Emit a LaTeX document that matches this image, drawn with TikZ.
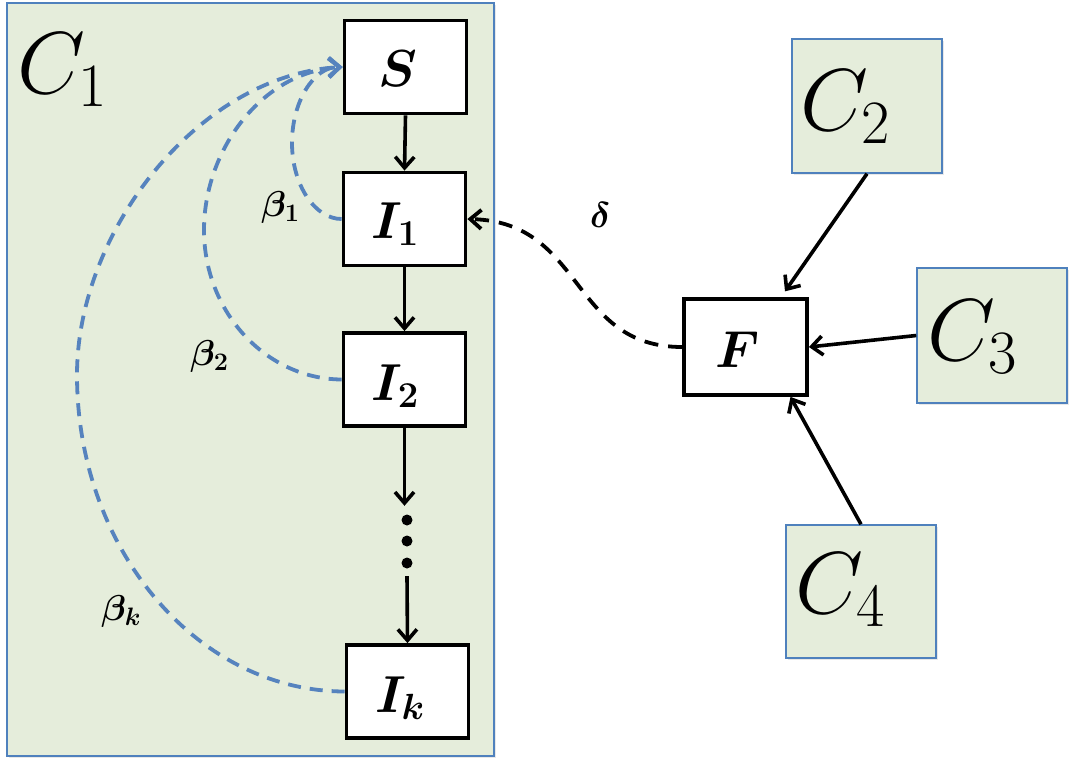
\RequirePackage{fix-cm}
\documentclass[tikz,border=0pt]{standalone}
\usepackage{bm}
\usetikzlibrary{arrows.meta,shadows}
\definecolor{cgreen}{RGB}{229,237,219}
\definecolor{cblue}{RGB}{79,129,189}
\definecolor{dblue}{RGB}{86,131,190}
\begin{document}
\begin{tikzpicture}[x=1pt,y=-1pt,
  comp/.style={draw=cblue, line width=1.4pt, fill=cgreen, inner sep=0pt,
    drop shadow={shadow xshift=1.5pt, shadow yshift=-1.5pt, opacity=0.18}},
  stbox/.style={draw=black, line width=3.8pt, fill=white, inner sep=0pt,
    minimum width=122pt, minimum height=93pt},
  clabel/.style={inner sep=0pt, anchor=base west, font=\fontsize{88}{96}\selectfont},
  blabel/.style={inner sep=0pt, anchor=base west, font=\fontsize{36}{40}\selectfont},
  slabel/.style={inner sep=0pt, anchor=base, font=\fontsize{52}{60}\selectfont},
  tip/.style={-{Straight Barb[length=11pt,width=19pt]}},
  flow/.style={tip, line width=3.6pt},
  barc/.style={tip, draw=dblue, line width=3.8pt, dash pattern=on 13pt off 9pt},
  karc/.style={tip, draw=black, line width=3.8pt, dash pattern=on 14pt off 10pt},
]
\useasboundingbox (0,0) rectangle (1072,764);

% compartments
\node[comp, minimum width=487pt, minimum height=753pt] (C1) at (250.5,379.5) {};
\node[comp, minimum width=150pt, minimum height=134pt] (C2) at (867,106) {};
\node[comp, minimum width=150pt, minimum height=135pt] (C3) at (992,335.5) {};
\node[comp, minimum width=150pt, minimum height=133pt] (C4) at (861,591.5) {};

\node[clabel] (C1t) at (17,93) {$C_1$};
\node[clabel] (C2t) at (800,130) {$C_2$};
\node[clabel] (C3t) at (927,360) {$C_3$};
\node[clabel] (C4t) at (795,613) {$C_4$};

% state boxes
\node[stbox] (S)  at (405.5,67) {};
\node[stbox] (I1) at (404.5,219) {};
\node[stbox] (I2) at (404.5,379.5) {};
\node[stbox] (Ik) at (407.5,691.5) {};
\node[stbox, minimum width=123pt, minimum height=96pt] (F) at (745.5,347) {};

\node[slabel] (St)  at (398,86)  {$\bm{S}$};
\node[slabel] (I1t) at (395,238) {$\bm{I_1}$};
\node[slabel] (I2t) at (395,400) {$\bm{I_2}$};
\node[slabel] (Ikt) at (400,712) {$\bm{I_k}$};
\node[slabel] (Ft)  at (738,367) {$\bm{F}$};

% dots
\node[inner sep=0pt, minimum width=12pt, minimum height=70pt] (dots) at (407,541) {};
\foreach \dy in {-22,0,21} \fill ([yshift=\dy]dots.center) circle (5.5pt);

% flow arrows
\draw[flow] (S.south) -- (I1.north);
\draw[flow] (I1.south) -- (I2.north);
\draw[flow] (I2.south) -- (I2.south |- dots.north);
\draw[flow] (dots.south) -- (Ik.north);

% infection arcs
\draw[barc] (I1.west) .. controls (315,219) and (292,185) .. (292,143)
  .. controls (292,101) and (314,67) .. (S.west);
\draw[barc] (I2.west) .. controls (266,379) and (204,312) .. (204,230)
  .. controls (204,150) and (262,72) .. (S.west);
\draw[barc] (Ik.west) .. controls (197,691) and (77,549) .. (77,375)
  .. controls (77,230) and (200,75) .. (S.west);

\node[blabel] (b1) at (261,216) {$\bm{\beta_1}$};
\node[blabel] (b2) at (190,365) {$\bm{\beta_2}$};
\node[blabel] (bk) at (101,620) {$\bm{\beta_k}$};

% F to I1
\draw[karc] (F.west) .. controls (570,347) and (585,222) .. (I1.east);
\node[inner sep=0pt, anchor=base west, font=\fontsize{36}{40}\selectfont] (dl) at (590,227) {$\bm{\delta}$};

% C2..C4 to F
\draw[flow, shorten >=7pt] (C2.south) -- ([xshift=35.5pt]F.north);
\draw[flow] (C3.west) -- (F.east);
\draw[flow] (C4.north) -- ([xshift=45pt]F.south);
\end{tikzpicture}
\end{document}
